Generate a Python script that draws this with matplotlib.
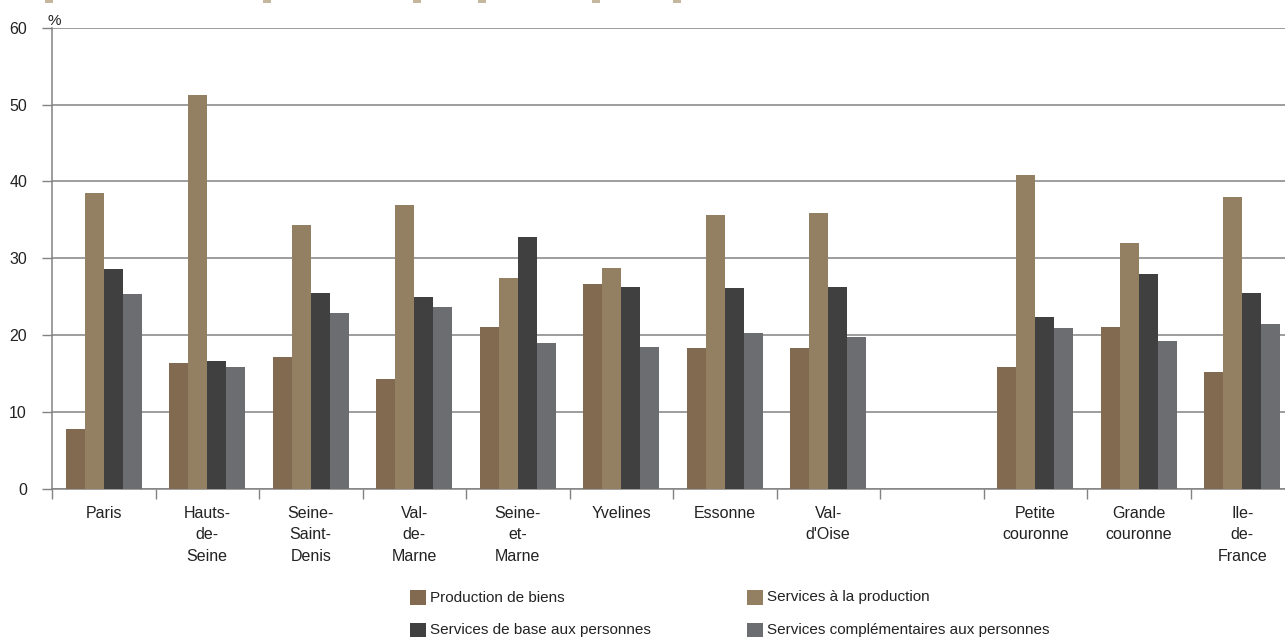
import numpy as np
import matplotlib
matplotlib.use("Agg")
import matplotlib.pyplot as plt
from matplotlib.patches import Rectangle

plt.rcParams['font.family'] = ['Liberation Sans', 'DejaVu Sans']

# departements / zones (une case vide entre Val-d'Oise et Petite couronne)
categories = ["Paris", "Hauts-\nde-\nSeine", "Seine-\nSaint-\nDenis", "Val-\nde-\nMarne",
              "Seine-\net-\nMarne", "Yvelines", "Essonne", "Val-\nd'Oise",
              "Petite\ncouronne", "Grande\ncouronne", "Ile-\nde-\nFrance"]
series = ["Production de biens", "Services à la production",
          "Services de base aux personnes", "Services complémentaires aux personnes"]
production_biens = [7.8, 16.4, 17.2, 14.3, 21.1, 26.6, 18.3, 18.3, 15.9, 21.1, 15.2]
services_production = [38.5, 51.3, 34.4, 37.0, 27.4, 28.7, 35.7, 35.9, 40.9, 32.0, 38.0]
services_base = [28.6, 16.7, 25.5, 25.0, 32.8, 26.3, 26.1, 26.3, 22.4, 27.9, 25.5]
services_compl = [25.3, 15.9, 22.9, 23.7, 19.0, 18.5, 20.3, 19.8, 20.9, 19.3, 21.4]
yticks = [0, 10, 20, 30, 40, 50, 60]

colors = ["#816a4f", "#937f62", "#404040", "#6c6d70"]
grid_col = "#828282"
txt_col = "#222222"

W, H = 1285, 637
fig = plt.figure(figsize=(W / 100, H / 100), dpi=100)
ax = fig.add_axes([52 / W, 148 / H, 1242 / W, 461.3 / H])

n = len(categories)
slot = np.arange(n) + (np.arange(n) >= 8)  # skip one slot after Val-d'Oise
centers = slot + 0.5
bw = 0.183
values = [production_biens, services_production, services_base, services_compl]
for k, (vals, c) in enumerate(zip(values, colors)):
    ax.bar(centers + (k - 1.5) * bw, vals, width=bw, color=c, zorder=3, linewidth=0)

ax.set_xlim(0, 12)
ax.set_ylim(0, 60)
ax.set_yticks(yticks)
ax.yaxis.grid(True, color=grid_col, linewidth=1.1, zorder=0)
ax.set_axisbelow(True)

ax.set_xticks(np.arange(0, 13))
ax.set_xticklabels([])
ax.set_xticks(centers, minor=True)
ax.set_xticklabels(categories, minor=True, fontsize=11.5, color=txt_col,
                   linespacing=1.55, va='top')
ax.tick_params(axis='x', which='major', direction='out', length=7, color=grid_col, width=1)
ax.tick_params(axis='x', which='minor', length=0, pad=12)
ax.tick_params(axis='y', direction='out', length=7, color=grid_col, width=1,
               labelsize=11.5, labelcolor=txt_col, pad=11)

for s in ['top', 'right']:
    ax.spines[s].set_visible(False)
for s in ['left', 'bottom']:
    ax.spines[s].set_color(grid_col)
    ax.spines[s].set_linewidth(1.1)

fig.text(47 / W, 1 - 25 / H, "%", fontsize=11, color=txt_col, va='baseline')

# legende sur deux colonnes
leg_x = [410, 747]
leg_y = [597.5, 630]
order = [(0, 0), (1, 0), (0, 1), (1, 1)]
for (col, row), name, c in zip(order, series, colors):
    x0, yc = leg_x[col], leg_y[row]
    fig.patches.append(Rectangle((x0 / W, 1 - (yc + 7.5) / H), 16 / W, 15 / H,
                                 transform=fig.transFigure, facecolor=c, edgecolor='none'))
    fig.text((x0 + 20) / W, 1 - yc / H, name, fontsize=11, color=txt_col,
             va='center', ha='left')

# restes du titre coupe en haut de l'image
for x0 in [45, 263, 413, 478, 592, 673]:
    fig.patches.append(Rectangle((x0 / W, 1 - 2.5 / H), 8 / W, 2.5 / H,
                                 transform=fig.transFigure, facecolor="#c5b69e", edgecolor='none'))

fig.savefig("out.png", dpi=100)
